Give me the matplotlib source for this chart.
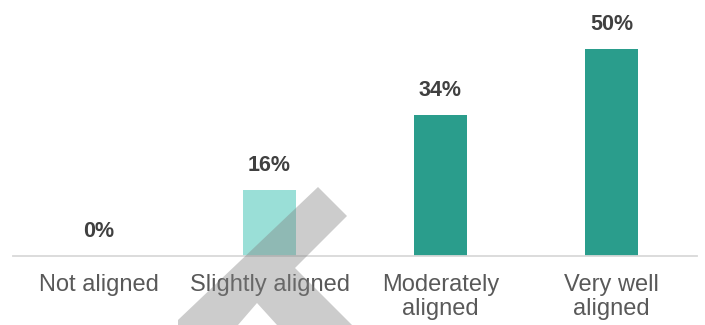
import numpy as np
import matplotlib
matplotlib.use('Agg')
import matplotlib.pyplot as plt
from matplotlib.patches import Polygon

plt.rcParams['font.family'] = ['Liberation Sans', 'DejaVu Sans']

# data
categories = ["Not aligned", "Slightly aligned", "Moderately\naligned", "Very well\naligned"]
values = [0, 16, 34, 50]
colors = ["#2A9D8C", "#9ADFD7", "#2A9D8C", "#2A9D8C"]

W, H = 705, 325
fig = plt.figure(figsize=(W/100, H/100), dpi=100)
ax = fig.add_axes([13/W, 69/H, 684/W, 256/H])

x = np.arange(len(categories))
ax.bar(x, values, width=0.31, color=colors, zorder=2)

ax.set_xlim(-0.5, len(categories)-0.5)
ax.set_ylim(0, 61.7)

for side in ['top', 'right', 'left']:
    ax.spines[side].set_visible(False)
ax.spines['bottom'].set_color('#D9D9D9')
ax.spines['bottom'].set_linewidth(1.3)
ax.set_yticks([])
ax.set_xticks(x)
ax.set_xticklabels(categories, fontsize=17, color='#595959', linespacing=1.1)
ax.tick_params(axis='x', length=0, pad=13)

# value labels
for i, v in enumerate(values):
    ax.annotate("{}%".format(v), (x[i], v), xytext=(0, 13.5), textcoords='offset points',
                ha='center', va='baseline', fontsize=15.5, fontweight='bold', color='#404040')

# grey cross mark drawn over the chart (figure pixel coords)
px = np.array([[318, 187], [347, 216], [295, 268], [352, 325], [277, 325],
               [257, 303], [238, 325], [178, 325], [178, 320]], dtype=float)
px[:, 1] = H - px[:, 1]
mark = Polygon(px / [W, H], closed=True, transform=fig.transFigure,
               facecolor='#808080', alpha=0.4, edgecolor='none', zorder=5)
fig.patches.append(mark)

fig.savefig("out.png", dpi=100)
